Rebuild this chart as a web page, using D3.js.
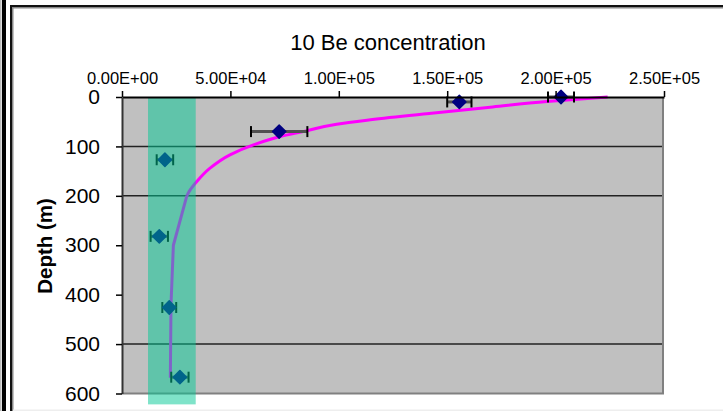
<!DOCTYPE html>
<html>
<head>
<meta charset="utf-8">
<script src="https://cdn.jsdelivr.net/npm/d3@7"></script>
<style>
  html, body { margin: 0; padding: 0; background: #fff; }
  svg { display: block; font-family: "Liberation Sans", Arial, sans-serif; }
</style>
</head>
<body>
<svg id="chart" width="723" height="411"></svg>
<script>
// ---- data ----
const titleText = "10 Be concentration";
const yLabel = "Depth (m)";
const xTicks = [0, 50000, 100000, 150000, 200000, 250000];
const yTicks = [0, 100, 200, 300, 400, 500, 600];
const gridDepths = [100, 200, 500];
// measured samples: depth (m), concentration, error
const sampleDepth = [0, 10, 70, 127, 282, 426, 567];
const sampleConc  = [202500, 155600, 72500, 19800, 17200, 21800, 26700];
const sampleErr   = [6000, 5600, 13000, 3800, 4000, 3200, 4000];
// model curve
const modelDepth = [0, 9, 20, 34, 47, 55, 70, 80, 97, 117, 144, 171, 191, 200, 300, 420, 568];
const modelConc  = [224000, 196000, 171000, 140500, 113000, 99000, 83600, 73000, 60600, 49800, 40600, 34500, 31000, 29900, 23700, 22600, 22300];
// shaded band
const bandConc = [12000, 34000];
const bandDepth = [0, 622];

// ---- chart ----
const svg = d3.select("#chart");
const x = d3.scaleLinear().domain([0, 250000]).range([122, 664]);
const y = d3.scaleLinear().domain([0, 600]).range([97, 393.5]);

// frame
svg.append("rect").attr("x", 0).attr("y", 0).attr("width", 1.5).attr("height", 411).attr("fill", "#bbb");
svg.append("rect").attr("x", 2).attr("y", 0).attr("width", 4).attr("height", 411).attr("fill", "#000");
svg.append("rect").attr("x", 10).attr("y", 5).attr("width", 713).attr("height", 2).attr("fill", "#111");
svg.append("rect").attr("x", 10).attr("y", 7).attr("width", 713).attr("height", 1.5).attr("fill", "#888");
svg.append("rect").attr("x", 10).attr("y", 5).attr("width", 2).attr("height", 406).attr("fill", "#111");
svg.append("rect").attr("x", 12).attr("y", 7).attr("width", 1.5).attr("height", 404).attr("fill", "#888");
svg.append("rect").attr("x", 13).attr("y", 409.5).attr("width", 710).attr("height", 1.5).attr("fill", "#eee");

// title
svg.append("text").attr("x", 388).attr("y", 50).attr("text-anchor", "middle")
  .attr("font-size", 22).attr("fill", "#000").text(titleText);

// plot background
const [x0, x1] = x.range(), [y0, y1] = y.range();
svg.append("rect").attr("x", x0).attr("y", y0).attr("width", x1 - x0).attr("height", y1 - y0)
  .attr("fill", "#c0c0c0");

// gridlines
svg.append("g").selectAll("line").data(gridDepths).join("line")
  .attr("x1", x0).attr("x2", x1).attr("y1", d => y(d)).attr("y2", d => y(d))
  .attr("stroke", "#222").attr("stroke-width", 1.5);

// border right/bottom
svg.append("line").attr("x1", x1 - 1).attr("x2", x1 - 1).attr("y1", y0).attr("y2", y1)
  .attr("stroke", "#808080").attr("stroke-width", 2);
svg.append("line").attr("x1", x0).attr("x2", x1).attr("y1", y1).attr("y2", y1)
  .attr("stroke", "#808080").attr("stroke-width", 2);

// model curve: smooth upper part, straight segments below 200 m
const model = modelDepth.map((d, i) => ({d, v: modelConc[i]}));
const split = modelDepth.indexOf(200);
const upper = model.slice(0, split + 1), lower = model.slice(split);
svg.append("path").datum(upper)
  .attr("d", d3.line().x(p => x(p.v)).y(p => y(p.d)).curve(d3.curveMonotoneY))
  .attr("fill", "none").attr("stroke", "#ff00ff").attr("stroke-width", 3);
svg.append("path").datum(lower)
  .attr("d", d3.line().x(p => x(p.v)).y(p => y(p.d)).curve(d3.curveLinear))
  .attr("fill", "none").attr("stroke", "#ff00ff").attr("stroke-width", 3)
  .attr("stroke-linejoin", "round");

// samples with error bars
const samples = sampleDepth.map((d, i) => ({d, v: sampleConc[i], e: sampleErr[i]}));
const eb = svg.append("g");
eb.selectAll("line.bar").data(samples).join("line").attr("class", "bar")
  .attr("x1", s => x(s.v - s.e)).attr("x2", s => x(s.v + s.e))
  .attr("y1", s => y(s.d)).attr("y2", s => y(s.d))
  .attr("stroke", "#505050").attr("stroke-width", 3);
eb.selectAll("line.capL").data(samples).join("line").attr("class", "capL")
  .attr("x1", s => x(s.v - s.e)).attr("x2", s => x(s.v - s.e))
  .attr("y1", s => y(s.d) - 5.5).attr("y2", s => y(s.d) + 5.5)
  .attr("stroke", "#000").attr("stroke-width", 2);
eb.selectAll("line.capR").data(samples).join("line").attr("class", "capR")
  .attr("x1", s => x(s.v + s.e)).attr("x2", s => x(s.v + s.e))
  .attr("y1", s => y(s.d) - 5.5).attr("y2", s => y(s.d) + 5.5)
  .attr("stroke", "#000").attr("stroke-width", 2);
svg.append("g").selectAll("path").data(samples).join("path")
  .attr("transform", s => `translate(${x(s.v)},${y(s.d)}) rotate(45)`)
  .attr("d", d3.symbol(d3.symbolSquare, 88))
  .attr("fill", "#000080").attr("stroke", "#000080").attr("stroke-width", 1.5)
  .attr("stroke-linejoin", "round");

// translucent band
svg.append("rect")
  .attr("x", x(bandConc[0])).attr("width", x(bandConc[1]) - x(bandConc[0]))
  .attr("y", y(bandDepth[0])).attr("height", y(bandDepth[1]) - y(bandDepth[0]))
  .attr("fill", "rgb(0,200,148)").attr("fill-opacity", 0.5);

// axes
const fmt = v => {
  const [m, e] = v.toExponential(2).split("e");
  const sign = e[0] === "-" ? "-" : "+";
  const digits = e.replace(/^[+-]/, "").padStart(2, "0");
  return `${m}E${sign}${digits}`;
};
const xAxis = svg.append("g").attr("transform", `translate(0,${y0})`)
  .call(d3.axisTop(x).tickValues(xTicks).tickFormat(fmt).tickSize(6).tickSizeOuter(0).tickPadding(7));
xAxis.select(".domain").attr("stroke", "#000").attr("stroke-width", 2);
xAxis.selectAll(".tick line").attr("stroke", "#000").attr("stroke-width", 1.5);
xAxis.selectAll(".tick text").attr("font-size", 16.5).attr("fill", "#000")
  .attr("font-family", "'Liberation Sans', Arial, sans-serif");

const yAxis = svg.append("g").attr("transform", `translate(${x0},0)`)
  .call(d3.axisLeft(y).tickValues(yTicks).tickSize(6).tickSizeOuter(0).tickPadding(16));
yAxis.select(".domain").attr("stroke", "#333").attr("stroke-width", 2);
yAxis.selectAll(".tick line").attr("stroke", "#000").attr("stroke-width", 1.5);
yAxis.selectAll(".tick text").attr("font-size", 21).attr("fill", "#000")
  .attr("font-family", "'Liberation Sans', Arial, sans-serif");

// y label
svg.append("text").attr("transform", "translate(52,246) rotate(-90)")
  .attr("text-anchor", "middle").attr("font-size", 20.5).attr("font-weight", "bold")
  .attr("fill", "#000").text(yLabel);
</script>
</body>
</html>
